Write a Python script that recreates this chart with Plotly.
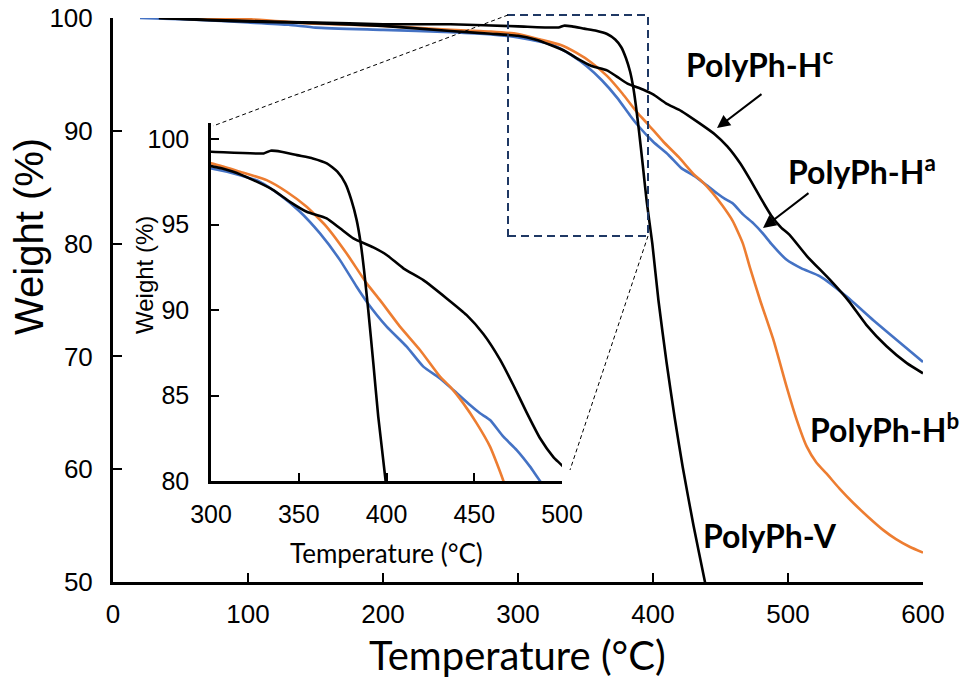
import plotly.graph_objects as go

# ---------------- data ----------------
temp_V = [34, 70, 110, 150, 200, 250, 300, 330, 334, 340, 349, 358, 366, 372, 376.5, 380, 383,
          385.3, 387.2, 389.6, 392.5, 395.3, 399.5, 404, 410, 416, 422, 430, 438.5, 442]
wt_V = [100, 99.85, 99.7, 99.6, 99.45, 99.45, 99.26, 99.16, 99.32, 99.26, 99.06, 98.87, 98.58, 98.09,
        97.41, 96.43, 95.26, 93.9, 92.34, 90.0, 86.88, 83.76, 80.0, 75.0, 69.5, 64.6, 60.2, 55.0, 50.0, 48.0]

temp_Hc = [34, 70, 110, 150, 200, 250, 280, 300, 312.7, 324.1, 335.5, 345, 354.5, 365.9, 373.5, 381.1,
           392.5, 400.1, 409.6, 421, 434.3, 445.7, 455.2, 464.7, 472.3, 479.9, 487.5, 495.1, 501, 514,
           531, 545, 558, 573, 588, 600]
wt_Hc = [100, 99.8, 99.65, 99.55, 99.3, 98.85, 98.6, 98.42, 98.09, 97.6, 97.02, 96.33, 95.75, 95.36,
         94.78, 94.19, 93.66, 93.22, 92.44, 91.75, 90.68, 89.7, 88.6, 87.1, 85.6, 84.0, 82.5, 81.4, 80.8,
         78.9, 76.8, 74.9, 72.8, 70.9, 69.4, 68.5]

temp_Hb = [50, 100, 150, 200, 250, 280, 300, 316.5, 331.7, 343.1, 354.5, 365.9, 377.3, 388.7, 396.3,
           407.7, 419.1, 430.5, 436.2, 443.8, 451.4, 459, 466.6, 472, 479.3, 489.1, 499, 506.4, 513.9,
           521, 528.6, 538, 548.4, 560, 570.6, 580, 590.4, 600]
wt_Hb = [100, 99.9, 99.5, 99.3, 98.95, 98.8, 98.58, 98.09, 97.6, 96.92, 96.04, 94.87, 93.31, 91.56,
         90.58, 89.03, 87.66, 86.1, 85.52, 84.54, 83.37, 82.01, 80.0, 77.8, 75.0, 71.5, 67.3, 64.4, 62.0,
         60.6, 59.6, 58.3, 57.0, 55.7, 54.6, 53.8, 53.1, 52.6]

temp_Ha = [20, 60, 100, 130, 150, 200, 250, 280, 300, 316.5, 327.9, 339.3, 350.7, 362.1, 373.5, 383,
           388.7, 400.1, 411.5, 421, 430.5, 438.1, 447.6, 453.3, 459, 466.6, 474.2, 481.8, 487.5, 499,
           510, 523.7, 543.5, 563.2, 583, 600]
wt_Ha = [100, 99.85, 99.6, 99.4, 99.15, 98.95, 98.75, 98.55, 98.28, 97.89, 97.5, 96.73, 95.75, 94.48,
         92.92, 91.36, 90.49, 89.03, 87.86, 86.69, 86.0, 85.32, 84.44, 83.96, 83.57, 82.59, 81.81, 80.84,
         80.0, 78.56, 77.8, 77.1, 75.3, 73.2, 71.2, 69.5]

series = [
    ("PolyPh-Ha", temp_Ha, wt_Ha, "#4472C4"),
    ("PolyPh-Hb", temp_Hb, wt_Hb, "#ED7D31"),
    ("PolyPh-Hc", temp_Hc, wt_Hc, "#000000"),
    ("PolyPh-V", temp_V, wt_V, "#000000"),
]

main_xticks = [0, 100, 200, 300, 400, 500, 600]
main_yticks = [50, 60, 70, 80, 90, 100]
inset_xticks = [300, 350, 400, 450, 500]
inset_yticks = [80, 85, 90, 95, 100]

# ---------------- figure ----------------
fig = go.Figure()
for name, xs, ys, col in series:
    fig.add_trace(go.Scatter(x=xs, y=ys, mode="lines", name=name,
                             line=dict(color=col, width=2.6, shape="spline", smoothing=0.5),
                             xaxis="x", yaxis="y", showlegend=False))
for name, xs, ys, col in series:
    fig.add_trace(go.Scatter(x=xs, y=ys, mode="lines", name=name,
                             line=dict(color=col, width=2.6, shape="spline", smoothing=0.5),
                             xaxis="x2", yaxis="y2", showlegend=False))

OX, OY = 8, 8            # page body margin
W, H = 966, 687
L, R, T, B = 105, 51, 10, 113
pw, ph = W - L - R, H - T - B


def px(xp):
    """screen x pixel -> paper fraction"""
    return (xp - OX - L) / pw


def py(yp):
    """screen y pixel -> paper fraction"""
    return (OY + H - B - yp) / ph


tickfont_main = dict(family="Liberation Sans, Arial", size=26, color="#000")
tickfont_in = dict(family="Liberation Sans, Arial", size=25, color="#000")

common = dict(ticks="inside", tickwidth=2, tickcolor="#000", showline=True, linecolor="#000",
              showgrid=False, zeroline=False, automargin=False, ticklabeloverflow="allow")

fig.update_layout(
    width=W, height=H,
    margin=dict(l=L, r=R, t=T, b=B, autoexpand=False),
    paper_bgcolor="white", plot_bgcolor="rgba(0,0,0,0)",
    xaxis=dict(domain=[0, 1], range=[0, 600], tickvals=main_xticks, ticklen=9, linewidth=3,
               tickfont=tickfont_main, ticklabelstandoff=7, **common),
    yaxis=dict(domain=[0, 1], range=[50, 100], tickvals=main_yticks, ticklen=9, linewidth=3,
               tickfont=tickfont_main, ticklabelstandoff=12, **common),
    xaxis2=dict(domain=[px(211), px(562)], range=[300, 500], tickvals=inset_xticks,
                anchor="y2", ticklen=8, linewidth=2.5, tickfont=tickfont_in,
                ticklabelstandoff=9, **common),
    yaxis2=dict(domain=[py(481), py(123)], range=[80, 100.94], tickvals=inset_yticks,
                anchor="x2", ticklen=8, linewidth=2.5, tickfont=tickfont_in,
                ticklabelstandoff=14, **common),
)

# zoom box and connectors
fig.add_shape(type="rect", xref="paper", yref="paper", x0=px(508), x1=px(648), y0=py(236), y1=py(15),
              line=dict(color="#1F3864", width=2, dash="8px,5px"))
fig.add_shape(type="line", xref="paper", yref="paper", x0=px(508), y0=py(15),
              x1=px(213), y1=py(126), line=dict(color="#000", width=1, dash="4px,3px"))
fig.add_shape(type="line", xref="paper", yref="paper", x0=px(648), y0=py(236),
              x1=px(570), y1=py(470), line=dict(color="#000", width=1, dash="4px,3px"))

lab_font = dict(family="Lato", size=32, color="#000")
labels = [
    ("<b>PolyPh-H<sup>c</sup></b>", 684, 63),
    ("<b>PolyPh-H<sup>a</sup></b>", 786, 170),
    ("<b>PolyPh-H<sup>b</sup></b>", 808, 428),
    ("<b>PolyPh-V</b>", 701, 535),
]
for txt, xl, yc in labels:
    fig.add_annotation(text=txt, xref="paper", yref="paper", x=px(xl), y=py(yc),
                       xanchor="left", yanchor="middle", showarrow=False, font=lab_font)

# arrows
for (tx, ty, sx, sy) in [(717, 128, 763, 93), (763, 228, 810, 192)]:
    fig.add_annotation(text="", xref="paper", yref="paper", x=px(tx), y=py(ty),
                       ax=sx - tx, ay=sy - ty, showarrow=True, arrowhead=2,
                       arrowsize=1.3, arrowwidth=2, arrowcolor="#000")

# axis titles
fig.add_annotation(text="Temperature (°C)", xref="paper", yref="paper", x=px(517), y=py(655),
                   xanchor="center", yanchor="middle", showarrow=False,
                   font=dict(family="Lato", size=40, color="#000"))
fig.add_annotation(text="Weight (%)", xref="paper", yref="paper", x=px(29), y=py(237),
                   xanchor="center", yanchor="middle", showarrow=False, textangle=-90,
                   font=dict(family="Liberation Sans, Arial", size=40, color="#000"))
fig.add_annotation(text="Temperature (°C)", xref="paper", yref="paper", x=px(386), y=py(553),
                   xanchor="center", yanchor="middle", showarrow=False,
                   font=dict(family="Lato", size=26, color="#000"))
fig.add_annotation(text="Weight (%)", xref="paper", yref="paper", x=px(144), y=py(275),
                   xanchor="center", yanchor="middle", showarrow=False, textangle=-90,
                   font=dict(family="Liberation Sans, Arial", size=24, color="#000"))

fig.write_html("out.html")
